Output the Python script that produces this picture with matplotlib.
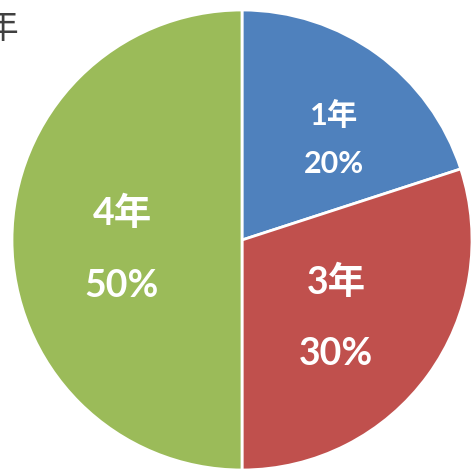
import matplotlib.pyplot as plt

# slice data (clockwise from 12 o'clock)
grades = ['1年', '3年', '4年']
shares = [20, 30, 50]
colors = ['#4F81BD', '#C0504D', '#9BBB59']

plt.rcParams['font.family'] = ['Lato', 'Noto Sans CJK JP', 'DejaVu Sans']

fig = plt.figure(figsize=(4.71, 4.71), dpi=100)
ax = fig.add_axes([0, 0, 1, 1])

wedges, _ = ax.pie(shares, colors=colors, startangle=90, counterclock=False,
                   center=(242, 231), radius=230, frame=True,
                   wedgeprops=dict(edgecolor='white', linewidth=2))
ax.set_xlim(0, 471)
ax.set_ylim(0, 471)
ax.set_aspect('equal')
ax.axis('off')

# label positions in pixels (x, y from top), label size
label_pos = [(334, 115, 164, 22), (336, 282, 354, 27), (122, 213, 286, 27)]
for name, val, (x, y1, y2, fs) in zip(grades, shares, label_pos):
    ax.text(x, 471 - y1, name, color='white', fontsize=fs, fontweight='bold',
            ha='center', va='center')
    ax.text(x, 471 - y2, f'{val}%', color='white', fontsize=fs, fontweight='bold',
            ha='center', va='center')

# title cut off at the left edge, as in the original
ax.text(18, 471 - 28, '年', color='#404040', fontsize=25, ha='right', va='center')

fig.savefig('out.png', dpi=100)
